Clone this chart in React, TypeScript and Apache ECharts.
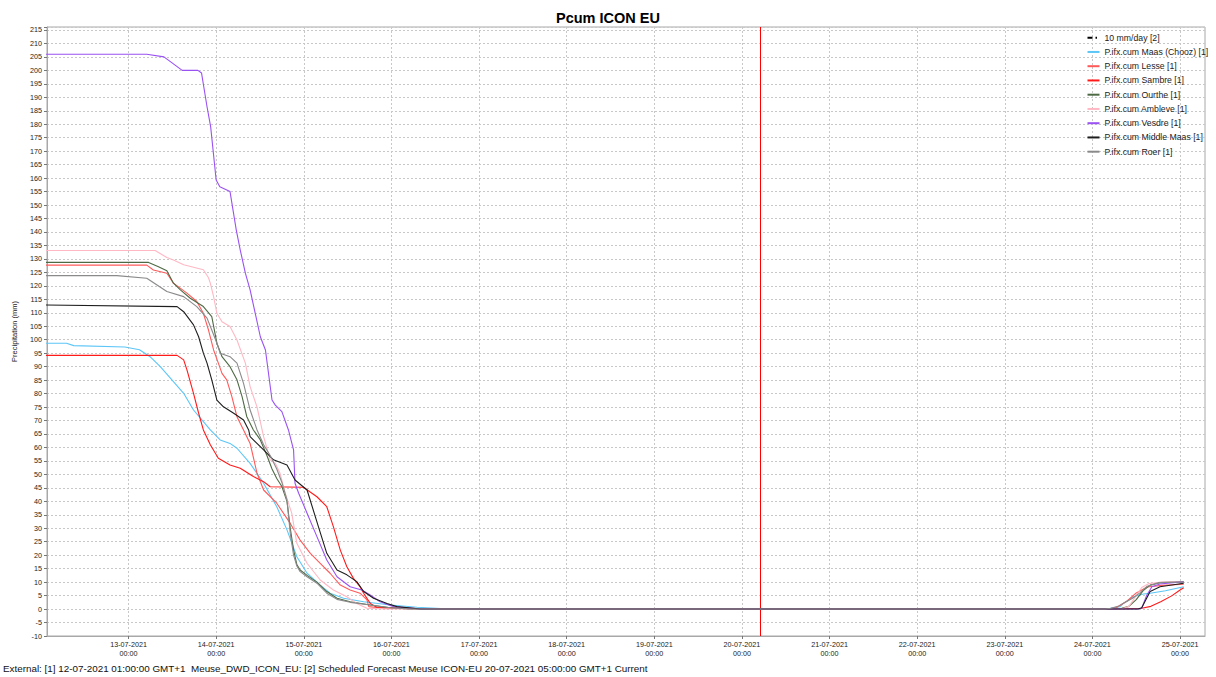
import React, { useEffect, useRef } from "react";
import * as echarts from "echarts";

// x values are hours counted from 13-07-2021 00:00
const HOUR0_DATE = Date.UTC(2021, 6, 13, 0, 0);
const HOUR = 3600000;
const AXIS_MIN_H = -22.33;
const AXIS_MAX_H = 294.83;
const FORECAST_H = 173; // 20-07-2021 05:00
const dayTicksH = [0, 24, 48, 72, 96, 120, 144, 168, 192, 216, 240, 264, 288];

const seriesNames = [
  "10 mm/day [2]",
  "P.ifx.cum Maas (Chooz) [1]",
  "P.ifx.cum Lesse [1]",
  "P.ifx.cum Sambre [1]",
  "P.ifx.cum Ourthe [1]",
  "P.ifx.cum Ambleve [1]",
  "P.ifx.cum Vesdre [1]",
  "P.ifx.cum Middle Maas [1]",
  "P.ifx.cum Roer [1]",
];

const tenMmDay: [number, number][] = [];

const maasChooz: [number, number][] = [
  [-23, 98.7], [-17, 98.7], [-15, 97.8], [-1, 97.3], [3, 96.3], [5.9, 93.7], [8.7, 90], [12.3, 84.4],
  [15.1, 80.1], [17.8, 73.9], [20.5, 69.6], [22.4, 66.5], [25.1, 62.8], [27.8, 61.5], [29.7, 59.7],
  [33.3, 54.1], [37, 46.7], [40.6, 38], [43.4, 29.4], [46.1, 19.4], [48.9, 13.3], [52.5, 8.9],
  [55.2, 5.9], [58.9, 4], [64.4, 2.7], [71.7, 1.5], [79, 0.7], [88.1, 0],
  [268.3, 0], [269, 0.3], [271.6, 0.9], [272.5, 2.1], [275.2, 4.6], [278, 5.6], [279.8, 5.9],
  [284, 6.8], [289, 8.3],
];

const lesse: [number, number][] = [
  [-23, 127.7], [5, 127.7], [6.8, 125.9], [10.5, 124.7], [12.3, 121], [16, 117.3], [18.7, 114.2],
  [20.5, 109.8], [21.9, 103.6], [23.3, 96.2], [24.6, 91.3], [25.6, 87.5], [26.9, 85.1], [28.3, 78.9],
  [29.7, 71.4], [31.5, 66.5], [33.3, 61.5], [35.2, 50.4], [37, 44.2], [40.6, 39.3], [44.3, 31.8],
  [47, 25.6], [49.8, 20.7], [52.5, 17], [55.2, 13.3], [58, 8.9], [60.7, 7.1], [63.4, 5.9],
  [65.3, 3.4], [65.8, 0.9], [70, 0.3], [80, 0],
  [268, 0], [270.5, 0.5], [273.5, 3], [276, 6], [279, 8.2], [283, 8.8], [289, 9.2],
];

const sambre: [number, number][] = [
  [-23, 94.2], [13.3, 94.2], [15.1, 92.5], [16, 88.8], [17.8, 80.1], [19.2, 72.7], [20.5, 66.5],
  [22.4, 61], [24.6, 56], [27.8, 53.5], [30.6, 52.3], [34.2, 49.2], [37, 47.3], [38.8, 45.4],
  [47.9, 45.2], [51.6, 41.7], [54.3, 38], [56.1, 30.6], [58, 21.9], [59.8, 15.7], [61.6, 11.4],
  [63.4, 8.3], [64.4, 5.9], [66.2, 2.1], [68, 0.7], [75, 0.4], [82.6, 0],
  [269.5, 0], [277.5, 0.3], [280, 1], [282.7, 2.7], [285.7, 4.9], [288, 7.1], [289, 7.9],
];

const ourthe: [number, number][] = [
  [-23, 128.7], [5.5, 128.7], [8.2, 127.1], [10.5, 125.6], [12.3, 121], [14.2, 118.5], [16.9, 115.4],
  [20.5, 112.3], [22.8, 108.6], [24.2, 98.7], [25.6, 93.7], [27.8, 90], [29.7, 85.1], [31.1, 78.9],
  [32.4, 71.4], [34.2, 66.5], [36.1, 62.8], [37.9, 57], [39.3, 52], [40.6, 48.5], [42, 45.5],
  [43.4, 40], [44.3, 30], [45.2, 22], [46.1, 16.5], [47, 14.5], [48.9, 12.5], [51.6, 10],
  [54.3, 6.5], [57.1, 4], [60.7, 2.7], [66.2, 1.5], [71.7, 0.5], [77, 0],
  [268, 0], [272, 0.3], [274, 1], [276, 3.5], [278, 7], [279.8, 8.9], [282.5, 9.8], [289, 10],
];

const ambleve: [number, number][] = [
  [-23, 133.1], [7.3, 133.1], [10.5, 130.5], [12.3, 129.6], [15.1, 127.8], [20.5, 126], [21.9, 123],
  [22.4, 121], [23.3, 116], [24.2, 109.8], [25.6, 106.7], [27.8, 104.9], [29.7, 99.9], [32, 91.3],
  [33.3, 82.6], [35.2, 75], [37, 64], [38.8, 55.4], [40.2, 54.1], [41.5, 50.4], [42.9, 43],
  [44.7, 35.6], [46.1, 24.4], [48.9, 17], [52.5, 10.8], [56.1, 7.1], [59.8, 4.6], [62.5, 2.1],
  [65.3, 0.3], [70, 0],
  [272, 0], [274, 1], [276, 5], [277.5, 8], [279.5, 9.5], [283, 10], [289, 10.2],
];

const vesdre: [number, number][] = [
  [-23, 206], [5, 206], [9.7, 205], [14.7, 200], [19, 200], [20, 199], [21.5, 186.5], [22.5, 179],
  [24, 159.3], [25, 156.8], [27.8, 155], [29.5, 140.8], [30.6, 133.3], [32, 124.7], [33.3, 118.5],
  [36.1, 101.1], [37.5, 96.2], [39.3, 77.6], [40.2, 75.7], [42, 73.3], [43.8, 66.5], [45.2, 59.1],
  [45.6, 46.7], [46.6, 43], [48.9, 35.6], [51.6, 26.9], [54.3, 18.2], [57.1, 12], [60.7, 8.3],
  [63.9, 7.1], [66.2, 5.2], [68.9, 2.7], [72.6, 0.9], [80, 0],
  [276.6, 0], [277.5, 0.3], [278.9, 5.2], [280.3, 8.3], [282.5, 9.3], [289, 10.2],
];

const middleMaas: [number, number][] = [
  [-23, 112.9], [13.3, 112.3], [15.1, 110.4], [17.8, 105.5], [19.2, 101.1], [20.5, 95], [21.5, 91.3],
  [22.8, 85.1], [24.2, 77.6], [26, 75.1], [28.8, 72.7], [31.5, 70.2], [32.9, 66.5], [33.3, 64],
  [37, 59.1], [39.7, 55.4], [43.4, 53.5], [45.6, 47.9], [48.9, 44.2], [52, 30.6], [54.3, 20.7],
  [57.1, 14.5], [59.8, 12.7], [62.5, 10.2], [64.4, 6.5], [67.1, 4], [70.8, 2.1], [73.5, 0.9], [80, 0],
  [276.5, 0], [277.5, 0.5], [279.8, 6.5], [282.5, 8.3], [289, 9.6],
];

const roer: [number, number][] = [
  [-23, 123.8], [-3.2, 123.8], [5, 122.8], [10.5, 117.9], [15.1, 116], [18.7, 112.3], [21.5, 108],
  [22.8, 103.6], [24.2, 98.7], [25.1, 95], [27.8, 93.7], [29.7, 91.3], [31.5, 83.8], [33.3, 73.9],
  [35.2, 66.5], [37, 61], [38.8, 57], [40.6, 52], [42, 47], [43.4, 40.5], [44.3, 28], [45.2, 20],
  [46.1, 16], [47, 13.9], [48.9, 12], [51.6, 9.6], [54.3, 5.9], [57.1, 3.6], [60.7, 2.5],
  [66.2, 1.5], [71.7, 0.5], [77, 0],
  [267.5, 0], [269, 0.3], [271, 1], [273, 2.5], [275, 4], [277, 6], [279, 8.5], [282, 9.8], [289, 10.1],
];

const seriesData = [tenMmDay, maasChooz, lesse, sambre, ourthe, ambleve, vesdre, middleMaas, roer];
const seriesColors = ["#000000", "#5cc6f7", "#ff5a5a", "#ff1a1a", "#4e6a44", "#ffb8c4", "#9a52f2", "#1e1e1e", "#8a8a8a"];

const FOOTER =
  "External: [1] 12-07-2021 01:00:00 GMT+1  Meuse_DWD_ICON_EU: [2] Scheduled Forecast Meuse ICON-EU 20-07-2021 05:00:00 GMT+1 Current";

const FONT = "'Liberation Sans', Arial, Helvetica, sans-serif";
const pad = (n: number) => (n < 10 ? "0" + n : String(n));
const dateLabel = (h: number) => {
  const d = new Date(HOUR0_DATE + h * HOUR);
  return `${pad(d.getUTCDate())}-${pad(d.getUTCMonth() + 1)}-${d.getUTCFullYear()}`;
};
const timeLabel = (h: number) => {
  const d = new Date(HOUR0_DATE + h * HOUR);
  return `${pad(d.getUTCHours())}:${pad(d.getUTCMinutes())}`;
};

export default function App() {
  const ref = useRef<HTMLDivElement>(null);
  useEffect(() => {
    if (!ref.current) return;
    const chart = echarts.init(ref.current, undefined, { renderer: "svg" });
    const series: any[] = seriesNames.map((name, i) => ({
      name,
      type: "line",
      xAxisIndex: 0,
      data: seriesData[i],
      symbol: "none",
      showSymbol: false,
      smooth: false,
      lineStyle: {
        color: seriesColors[i],
        width: i === 0 ? 1 : 1.1,
        type: i === 0 ? [5, 3, 1.5, 3] : "solid",
      },
      itemStyle: { color: seriesColors[i] },
      emphasis: { disabled: true },
      z: 2 + i,
    }));
    series[series.length - 1].markLine = {
      silent: true,
      symbol: "none",
      label: { show: false },
      lineStyle: { color: "#ff0000", width: 1, type: "solid" },
      data: [{ xAxis: FORECAST_H }],
    };
    const labelBase = { hideOverlap: false, color: "#222", fontFamily: FONT, fontSize: 7.2 };
    chart.setOption({
      animation: false,
      backgroundColor: "#ffffff",
      title: {
        text: "Pcum ICON EU",
        left: "center",
        top: 5,
        textStyle: { fontFamily: FONT, fontSize: 14.5, fontWeight: "bold", color: "#000" },
      },
      legend: {
        orient: "vertical",
        left: 1086.5,
        top: 32.7,
        itemWidth: 12,
        itemHeight: 10,
        itemGap: 4.25,
        padding: 0,
        itemStyle: { opacity: 0 },
        data: seriesNames,
        textStyle: { fontFamily: FONT, fontSize: 8.7, color: "#222", lineHeight: 10 },
      },
      grid: {
        left: 47,
        right: 11,
        top: 27,
        bottom: 41,
        show: true,
        borderColor: "#a8a8a8",
        borderWidth: 1,
        backgroundColor: "#ffffff",
      },
      xAxis: [
        {
          type: "value",
          min: AXIS_MIN_H,
          max: AXIS_MAX_H,
          position: "bottom",
          axisLine: { show: true, onZero: false, lineStyle: { color: "#a8a8a8", width: 1 } },
          axisTick: { show: true, length: 3, customValues: dayTicksH, lineStyle: { color: "#777" } },
          splitLine: { show: true, lineStyle: { color: "#c8c8c8", type: [2, 2], width: 1 } },
          axisLabel: { ...labelBase, customValues: dayTicksH, margin: 5, formatter: (h: number) => dateLabel(h) },
        },
        {
          type: "value",
          min: AXIS_MIN_H,
          max: AXIS_MAX_H,
          position: "bottom",
          axisLine: { show: false, onZero: false },
          axisTick: { show: false, customValues: dayTicksH },
          splitLine: { show: false },
          axisLabel: { ...labelBase, customValues: dayTicksH, margin: 14, formatter: (h: number) => timeLabel(h) },
        },
      ],
      yAxis: {
        type: "value",
        min: -10,
        max: 216.1,
        interval: 5,
        name: "Precipitation (mm)",
        nameLocation: "middle",
        nameGap: 29,
        nameTextStyle: { fontFamily: FONT, fontSize: 7.5, color: "#222" },
        axisLine: { show: true, onZero: false, lineStyle: { color: "#a8a8a8", width: 1 } },
        axisTick: { show: true, length: 3, lineStyle: { color: "#777" } },
        splitLine: { show: true, lineStyle: { color: "#c8c8c8", type: [2, 2], width: 1 } },
        axisLabel: {
          margin: 5,
          fontFamily: FONT,
          fontSize: 7.2,
          color: "#222",
          formatter: (v: number) => (Math.abs(v % 5) < 1e-6 ? String(v) : ""),
        },
      },
      graphic: [
        {
          type: "text",
          left: 3,
          top: 663,
          style: { text: FOOTER, fontFamily: FONT, fontSize: 9.85, fill: "#111" },
        },
      ],
      series,
    });
    return () => chart.dispose();
  }, []);
  return <div ref={ref} style={{ position: "fixed", left: 0, top: 0, width: 1216, height: 677 }} />;
}
